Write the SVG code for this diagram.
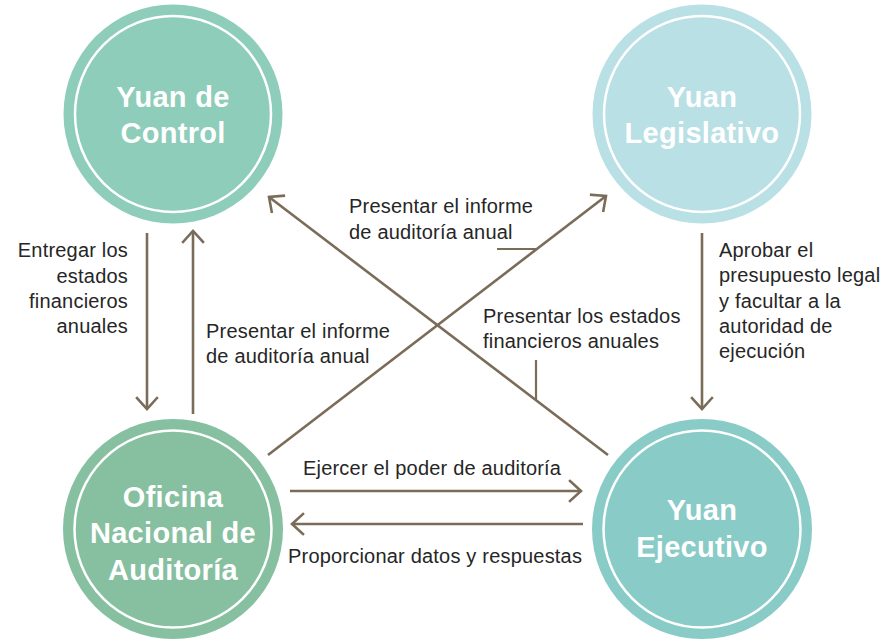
<svg xmlns="http://www.w3.org/2000/svg" width="885" height="640" viewBox="0 0 885 640">
<style>
.ring{fill:none;stroke:#ffffff;stroke-width:2.5}
.title{font-family:"Liberation Sans",Arial,sans-serif;font-weight:bold;font-size:29px;fill:#ffffff;text-anchor:middle;letter-spacing:0.3px}
.lbl{font-family:"Liberation Sans",Arial,sans-serif;font-size:20px;fill:#262626;letter-spacing:0.2px}
.conn{fill:none;stroke:#7b6b59;stroke-width:2.6}
.lead{fill:none;stroke:#7b6b59;stroke-width:2.2}
</style>
<defs>
<marker id="ah" markerUnits="userSpaceOnUse" markerWidth="30" markerHeight="30" viewBox="-15 -15 30 30" refX="0" refY="0" orient="auto">
<path d="M-11,-10 L0,0 L-11,10" fill="none" stroke="#7b6b59" stroke-width="2.6" stroke-linecap="square"/>
</marker>
</defs>
<rect width="885" height="640" fill="#ffffff"/>

<g id="connectors">
<line class="conn" x1="147" y1="233" x2="147" y2="409" marker-end="url(#ah)"/>
<line class="conn" x1="193" y1="414" x2="193" y2="231" marker-end="url(#ah)"/>
<line class="conn" x1="702" y1="233" x2="702" y2="409" marker-end="url(#ah)"/>
<line class="conn" x1="268" y1="455" x2="606" y2="196" marker-end="url(#ah)"/>
<line class="conn" x1="608" y1="455" x2="269" y2="197" marker-end="url(#ah)"/>
<line class="conn" x1="290" y1="491" x2="581" y2="491" marker-end="url(#ah)"/>
<line class="conn" x1="583" y1="524" x2="292" y2="524" marker-end="url(#ah)"/>
<line class="lead" x1="497" y1="249" x2="537" y2="249"/>
<line class="lead" x1="536" y1="360" x2="536" y2="400"/>
</g>

<g id="yuan-control">
<circle cx="173" cy="114" r="109.5" fill="#8ecdb9"/>
<circle class="ring" cx="173" cy="114" r="98"/>
<text class="title" x="173" y="107">Yuan de</text>
<text class="title" x="173" y="143">Control</text>
</g>

<g id="yuan-legislativo">
<circle cx="702" cy="114" r="109.5" fill="#b9e0e5"/>
<circle class="ring" cx="702" cy="114" r="98"/>
<text class="title" x="702" y="107">Yuan</text>
<text class="title" x="702" y="143">Legislativo</text>
</g>

<g id="oficina">
<circle cx="173" cy="529" r="110" fill="#87c0a0"/>
<circle class="ring" cx="173" cy="529" r="98.5"/>
<text class="title" x="173" y="507">Oficina</text>
<text class="title" x="173" y="543">Nacional de</text>
<text class="title" x="173" y="580">Auditoría</text>
</g>

<g id="yuan-ejecutivo">
<circle cx="702" cy="529" r="110" fill="#89cbc6"/>
<circle class="ring" cx="702" cy="529" r="98.5"/>
<text class="title" x="702" y="520">Yuan</text>
<text class="title" x="702" y="557">Ejecutivo</text>
</g>

<g id="labels">
<text class="lbl" text-anchor="end" x="128" y="257">Entregar los</text>
<text class="lbl" text-anchor="end" x="128" y="283">estados</text>
<text class="lbl" text-anchor="end" x="128" y="308">financieros</text>
<text class="lbl" text-anchor="end" x="128" y="333">anuales</text>

<text class="lbl" x="206" y="338">Presentar el informe</text>
<text class="lbl" x="206" y="363">de auditoría anual</text>

<text class="lbl" x="349" y="213">Presentar el informe</text>
<text class="lbl" x="349" y="239">de auditoría anual</text>

<text class="lbl" x="483" y="323">Presentar los estados</text>
<text class="lbl" x="483" y="348">financieros anuales</text>

<text class="lbl" x="719" y="257">Aprobar el</text>
<text class="lbl" x="719" y="282">presupuesto legal</text>
<text class="lbl" x="719" y="308">y facultar a la</text>
<text class="lbl" x="719" y="333">autoridad de</text>
<text class="lbl" x="719" y="358">ejecución</text>

<text class="lbl" x="303" y="475">Ejercer el poder de auditoría</text>
<text class="lbl" x="288" y="563">Proporcionar datos y respuestas</text>
</g>
</svg>
